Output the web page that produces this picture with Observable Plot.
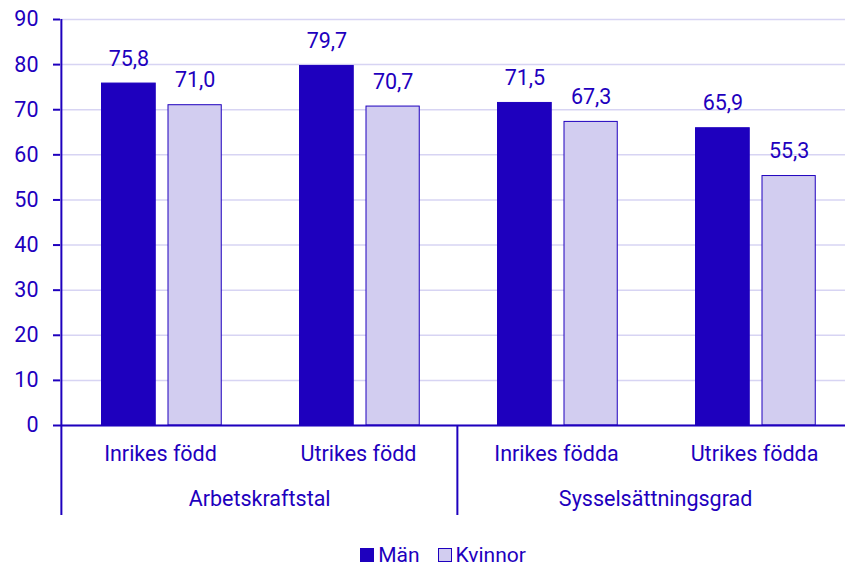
<!DOCTYPE html>
<html>
<head>
<meta charset="utf-8">
<script src="https://cdn.jsdelivr.net/npm/d3@7"></script>
<script src="https://cdn.jsdelivr.net/npm/@observablehq/plot@0.6"></script>
<style>
  html, body { margin: 0; padding: 0; background: #fff; }
  body { width: 845px; height: 568px; overflow: hidden; font-family: Roboto, sans-serif; }
  #legend { text-align: center; padding-left: 41px; padding-top: 4px; line-height: 22px; height: 24px;
            font-size: 21px; color: #1e00be; font-family: Roboto, sans-serif; white-space: nowrap; }
  #legend .item { display: inline-block; margin: 0 9px; }
  #legend .sw { display: inline-block; width: 14px; height: 14px; box-sizing: border-box; border: 1px solid #1e00be;
                vertical-align: baseline; margin-right: 4px; }
</style>
</head>
<body>
<div id="chart"></div>
<div id="legend"></div>
<script>
const categories = ["Inrikes född", "Utrikes född", "Inrikes födda", "Utrikes födda"];
const groups = ["Arbetskraftstal", "Arbetskraftstal", "Sysselsättningsgrad", "Sysselsättningsgrad"];
const groupNames = ["Arbetskraftstal", "Sysselsättningsgrad"];
const series = ["Män", "Kvinnor"];
const man = [75.8, 79.7, 71.5, 65.9];
const kvinnor = [71.0, 70.7, 67.3, 55.3];
const yTicks = [0, 10, 20, 30, 40, 50, 60, 70, 80, 90];

const dark = "#1e00be";
const light = "#d2cdf0";
const grid = "#d7d4f3";
const fs = 21.5;

const data = [];
categories.forEach((c, i) => {
  data.push({category: c, group: groups[i], sex: "Män", value: man[i]});
  data.push({category: c, group: groups[i], sex: "Kvinnor", value: kvinnor[i]});
});
const fmt = v => d3.format(".1f")(v).replace(".", ",");

const xRange = [60, 853];
const step = (xRange[1] - xRange[0]) / categories.length;

const groupLabels = groupNames.map(g => ({group: g, category: categories[groups.indexOf(g)]}));
const groupStarts = groupNames.map(g => categories[groups.indexOf(g)]);

const chart = Plot.plot({
  width: 845,
  height: 540,
  marginTop: 19,
  marginBottom: 115,
  marginLeft: 60,
  marginRight: 0,
  style: {fontFamily: "Roboto, sans-serif", fontSize: fs + "px", color: dark, background: "#fff"},
  x: {domain: categories, range: xRange, padding: 0, axis: null},
  y: {domain: [0, 90], axis: null},
  marks: [
    Plot.gridY(yTicks, {stroke: grid, strokeOpacity: 1, strokeWidth: 1.5}),
    Plot.barY(data.filter(d => d.sex === "Män"), {
      x: "category", y: "value", fill: dark, stroke: dark, strokeWidth: 1,
      insetLeft: 40.5, insetRight: step - 94.5
    }),
    Plot.barY(data.filter(d => d.sex === "Kvinnor"), {
      x: "category", y: "value", fill: light, stroke: dark, strokeWidth: 1,
      insetLeft: 107, insetRight: step - 160.5
    }),
    Plot.text(data.filter(d => d.sex === "Män"), {
      x: "category", y: "value", text: d => fmt(d.value), dx: -(step / 2 - 67.5),
      lineAnchor: "bottom", dy: -18, fill: dark, fontSize: fs
    }),
    Plot.text(data.filter(d => d.sex === "Kvinnor"), {
      x: "category", y: "value", text: d => fmt(d.value), dx: 133.75 - step / 2,
      lineAnchor: "bottom", dy: -18, fill: dark, fontSize: fs
    }),
    Plot.ruleY([0], {stroke: dark, strokeWidth: 2}),
    Plot.axisY({ticks: yTicks, tickSize: 7, tickPadding: 15, label: null, stroke: dark, fill: dark, fontSize: fs, strokeWidth: 2, tickFormat: d => d}),
    Plot.ruleX([categories[0]], {x: d => d, dx: -step / 2, stroke: dark, strokeWidth: 2, insetBottom: -90}),
    Plot.ruleX(groupStarts.slice(1), {x: d => d, dx: -step / 2, stroke: dark, strokeWidth: 2, insetTop: 406, insetBottom: -90}),
    Plot.text(categories, {x: d => d, text: d => d, frameAnchor: "bottom", lineAnchor: "middle", dy: 29, fill: dark, fontSize: fs}),
    Plot.text(groupLabels, {x: "category", text: "group", dx: step / 2, frameAnchor: "bottom", lineAnchor: "middle", dy: 74, fill: dark, fontSize: fs})
  ]
});
document.getElementById("chart").appendChild(chart);

const legend = document.getElementById("legend");
const legendColors = {"Män": dark, "Kvinnor": light};
series.forEach(s => {
  const item = document.createElement("span");
  item.className = "item";
  const sw = document.createElement("span");
  sw.className = "sw";
  sw.style.background = legendColors[s];
  item.appendChild(sw);
  item.appendChild(document.createTextNode(s));
  legend.appendChild(item);
});
</script>
</body>
</html>
